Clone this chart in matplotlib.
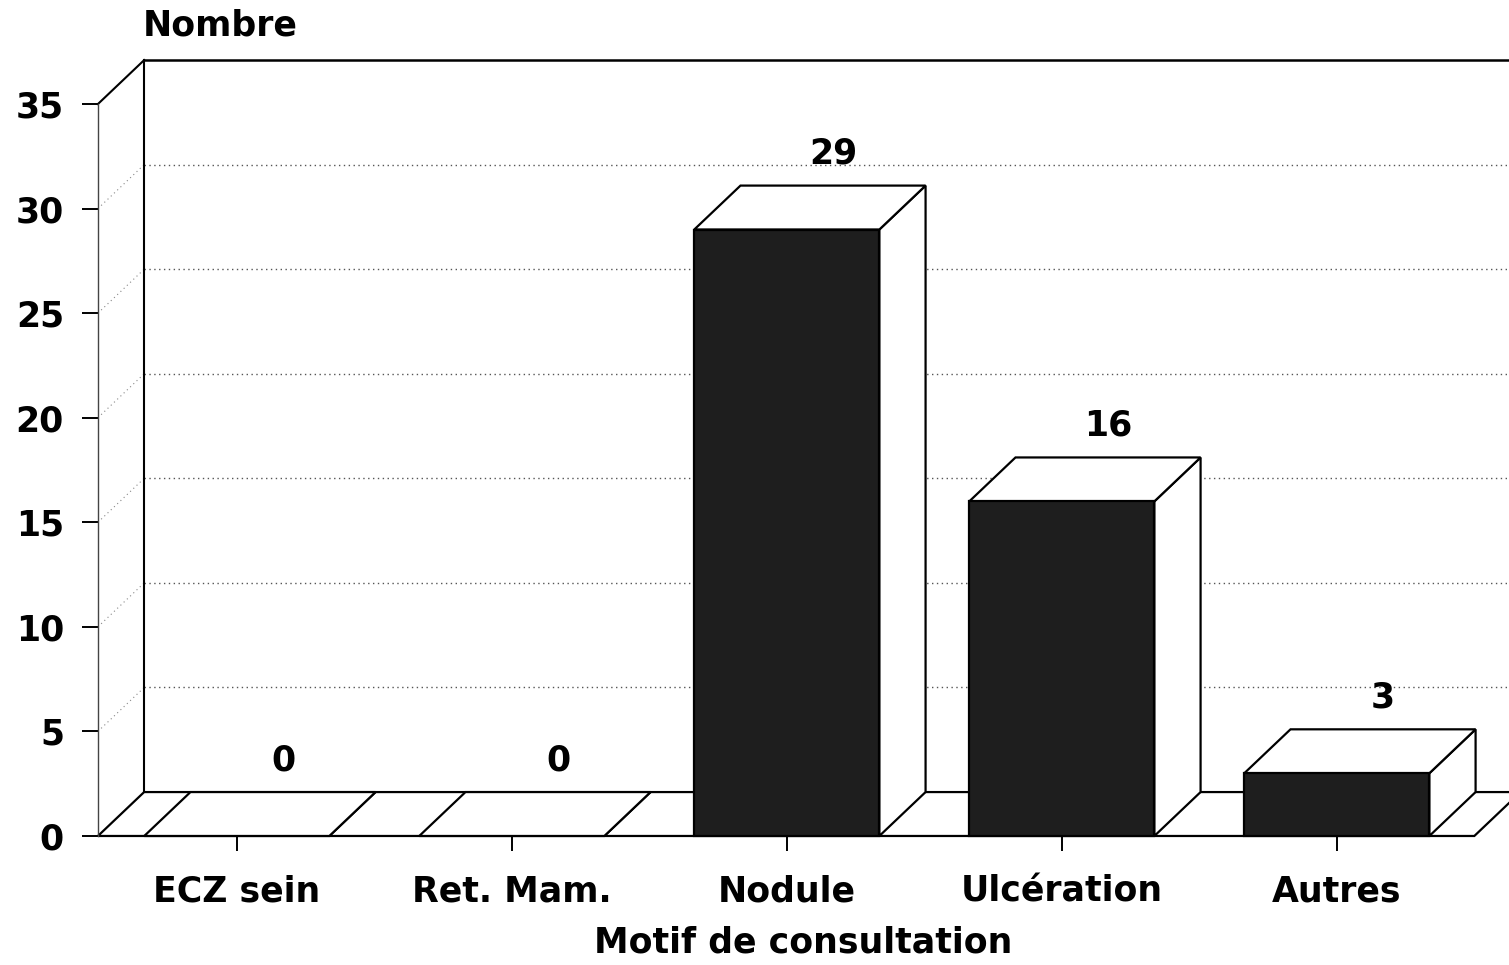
import matplotlib
matplotlib.use("Agg")
import matplotlib.pyplot as plt
from matplotlib.patches import Polygon

categories = ["ECZ sein", "Ret. Mam.", "Nodule", "Ulcération", "Autres"]
values = [0, 0, 29, 16, 3]
yticks = [0, 5, 10, 15, 20, 25, 30, 35]

fonts = {'family': 'DejaVu Sans', 'weight': 'bold', 'size': 25}
matplotlib.rc('font', **fonts)
matplotlib.rc('axes', labelweight='bold')

# fake 3d box geometry (data units)
dx = 0.168
dy = 2.10
width = 0.673
xmin, xmax = -0.505, 4.626
floor_end = 4.50
ytop = 35

fig = plt.figure(figsize=(15.09, 9.65), dpi=100)
ax = fig.add_axes([0.0649, 0.1337, 1 - 0.0649, 0.7585])
ax.set_xlim(xmin, xmax)
ax.set_ylim(0, ytop)

for s in ["top", "right", "bottom"]:
    ax.spines[s].set_visible(False)
ax.spines["left"].set_linewidth(1.0)
ax.spines["left"].set_color("#444444")

ax.set_yticks(yticks)
ax.set_xticks(range(len(categories)))
ax.set_xticklabels(categories)
ax.tick_params(axis="y", direction="out", length=11.5, width=1.4, pad=13)
ax.tick_params(axis="x", direction="out", length=11, width=1.4, pad=17)

# side wall and back wall
x_back = xmin + dx
ax.plot([xmin, x_back], [ytop, ytop + dy], color="black", lw=1.5, clip_on=False)
ax.plot([x_back, x_back], [dy, ytop + dy], color="black", lw=1.5, clip_on=False)
ax.plot([x_back, xmax + 1], [ytop + dy, ytop + dy], color="black", lw=1.8, clip_on=False)
for v in yticks[1:-1]:
    ax.plot([x_back, xmax + 1], [v + dy, v + dy], color="#555555", lw=1.0,
            ls=(0, (1, 2.5)), clip_on=False, zorder=1)
    ax.plot([xmin, x_back], [v, v + dy], color="#888888", lw=0.8,
            ls=(0, (1, 3)), clip_on=False, zorder=1)

# floor
floor = Polygon([(xmin, 0), (floor_end, 0), (floor_end + dx, dy), (xmin + dx, dy)],
                closed=True, facecolor="white", edgecolor="black", lw=1.6,
                clip_on=False, zorder=2)
ax.add_patch(floor)

# bars
for i, v in enumerate(values):
    x0 = i - width / 2
    x1 = i + width / 2
    top = Polygon([(x0, v), (x1, v), (x1 + dx, v + dy), (x0 + dx, v + dy)],
                  closed=True, facecolor="white", edgecolor="black", lw=1.6,
                  clip_on=False, zorder=3)
    side = Polygon([(x1, 0), (x1 + dx, dy), (x1 + dx, v + dy), (x1, v)],
                   closed=True, facecolor="white", edgecolor="black", lw=1.6,
                   clip_on=False, zorder=3)
    ax.add_patch(side)
    ax.add_patch(top)
    if v > 0:
        front = Polygon([(x0, 0), (x1, 0), (x1, v), (x0, v)], closed=True,
                        facecolor="#1e1e1e", edgecolor="black", lw=1.6,
                        clip_on=False, zorder=4)
        ax.add_patch(front)
    ax.annotate(str(v), xy=(i + dx, v + dy), xytext=(0, 23),
                textcoords="offset points", ha="center", va="center",
                annotation_clip=False)

ax.set_xlabel("Motif de consultation", fontsize=25, labelpad=12)
fig.text(0.146, 0.974, "Nombre", ha="center", va="center", fontsize=25)

fig.savefig("out.png", dpi=100)
